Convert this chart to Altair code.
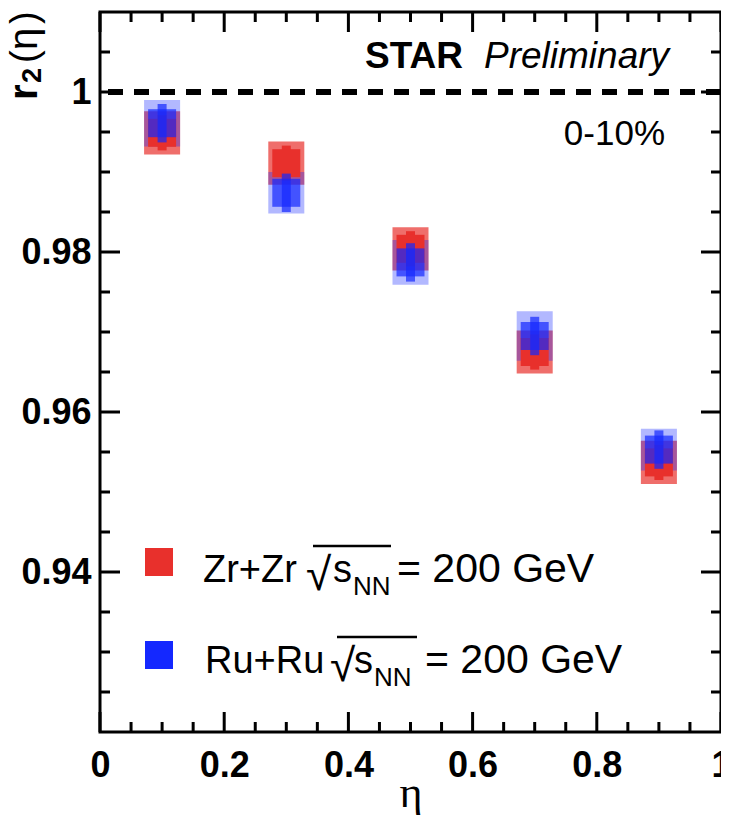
import altair as alt
import pandas as pd

# ---------------- data ----------------
eta = [0.1, 0.3, 0.5, 0.7, 0.9]

zr_r2 = [0.9949, 0.9911, 0.9804, 0.9675, 0.9537]
zr_stat = [0.0022, 0.0022, 0.0022, 0.0022, 0.0022]
zr_sys = [0.0027, 0.0027, 0.0027, 0.0027, 0.0027]

ru_r2 = [0.9961, 0.9874, 0.9787, 0.9695, 0.9553]
ru_stat = [0.0024, 0.0024, 0.0024, 0.0024, 0.0024]
ru_sys = [0.0029, 0.0026, 0.0028, 0.0031, 0.0026]

x_major = [0.0, 0.2, 0.4, 0.6, 0.8, 1.0]
x_minor = [0.05, 0.1, 0.15, 0.25, 0.3, 0.35, 0.45, 0.5, 0.55,
           0.65, 0.7, 0.75, 0.85, 0.9, 0.95]
y_major = [0.94, 0.96, 0.98, 1.0]
y_minor = [0.925, 0.93, 0.935, 0.945, 0.95, 0.955, 0.965, 0.97, 0.975,
           0.985, 0.99, 0.995, 1.005]
ref_level = [1.0]

# ---------------- style ----------------
W, H = 621, 720
RED = "#e8302c"
BLUE = "#1428ff"
BOX_HALF = 0.029          # half width of systematic boxes (in eta units)
MARK = 784                # square marker area (28 px side)
FONT = "Liberation Sans"

xs = alt.Scale(domain=[0, 1], nice=False, zero=False)
ys = alt.Scale(domain=[0.92, 1.01], nice=False, zero=False)


def series_df(vals, stat, sys):
    d = pd.DataFrame({"eta": eta, "r2": vals, "stat": stat, "sys": sys})
    d["x1"] = d["eta"] - BOX_HALF
    d["x2"] = d["eta"] + BOX_HALF
    d["sys_lo"] = d["r2"] - d["sys"]
    d["sys_hi"] = d["r2"] + d["sys"]
    d["st_lo"] = d["r2"] - d["stat"]
    d["st_hi"] = d["r2"] + d["stat"]
    return d


zr = series_df(zr_r2, zr_stat, zr_sys)
ru = series_df(ru_r2, ru_stat, ru_sys)

X_AXIS = alt.Axis(values=x_major, format=".1~f", tickSize=0, domain=False, grid=False,
                  labelFont=FONT, labelFontWeight="bold", labelFontSize=36,
                  labelColor="black", labelPadding=16, labelFlush=False,
                  labelOverlap=False, title="η", titleFont="Liberation Serif",
                  titleFontWeight="normal", titleFontSize=44, titleColor="black",
                  titleX=W / 2, titleY=74, titleBaseline="alphabetic",
                  titleAlign="center")
Y_AXIS = alt.Axis(values=y_major, format=".2~f", tickSize=0, domain=False, grid=False,
                  labelFont=FONT, labelFontWeight="bold", labelFontSize=36,
                  labelColor="black", labelPadding=9, labelFlush=False,
                  labelOverlap=False, title=None)


def X(field):
    return alt.X(field, type="quantitative", scale=xs, axis=X_AXIS)


def Y(field):
    return alt.Y(field, type="quantitative", scale=ys, axis=Y_AXIS)


def sys_boxes(d, color, op):
    return alt.Chart(d).mark_rect(color=color, opacity=op).encode(
        x=X("x1"), x2="x2", y=Y("sys_lo"), y2="sys_hi")


def stat_bars(d, color, op):
    return alt.Chart(d).mark_rule(color=color, opacity=op, strokeWidth=9).encode(
        x=X("eta"), y=Y("st_lo"), y2="st_hi")


def markers(d, color, op):
    return alt.Chart(d).mark_square(color=color, opacity=op, size=MARK).encode(
        x=X("eta"), y=Y("r2"))


def xticks(vals, length, top):
    y0 = 0 if top else H
    y1 = length if top else H - length
    return alt.Chart(pd.DataFrame({"v": vals})).mark_rule(
        color="black", strokeWidth=3).encode(
        x=X("v"), y=alt.value(y0), y2=alt.value(y1))


def yticks(vals, length, right):
    x0 = W if right else 0
    x1 = W - length if right else length
    return alt.Chart(pd.DataFrame({"v": vals})).mark_rule(
        color="black", strokeWidth=3).encode(
        y=Y("v"), x=alt.value(x0), x2=alt.value(x1))


def label(text, x, y, size, weight="normal", style="normal", font=FONT,
          align="left", angle=0):
    return alt.Chart(pd.DataFrame({"t": [text]})).mark_text(
        align=align, baseline="alphabetic", font=font, fontSize=size,
        fontWeight=weight, fontStyle=style, angle=angle, color="black").encode(
        x=alt.value(x), y=alt.value(y), text="t:N")


def legend_square(color, x, y):
    return alt.Chart(pd.DataFrame({"a": [0]})).mark_square(
        color=color, size=MARK, opacity=1).encode(x=alt.value(x), y=alt.value(y))


def overline(x0, x1, y):
    return alt.Chart(pd.DataFrame({"a": [0]})).mark_rule(
        color="black", strokeWidth=2.5).encode(
        x=alt.value(x0), x2=alt.value(x1), y=alt.value(y))


ref_line = alt.Chart(pd.DataFrame({"v": ref_level})).mark_rule(
    color="black", strokeWidth=6, strokeDash=[15, 11]).encode(y=Y("v"))

layers = [
    sys_boxes(zr, RED, 0.7),
    sys_boxes(ru, BLUE, 0.33),
    stat_bars(zr, RED, 1.0),
    markers(zr, RED, 1.0),
    stat_bars(ru, BLUE, 0.7),
    markers(ru, BLUE, 0.7),
    ref_line,
    xticks(x_major, 20, False), xticks(x_minor, 10, False),
    xticks(x_major, 20, True), xticks(x_minor, 10, True),
    yticks(y_major, 20, False), yticks(y_minor, 10, False),
    yticks(y_major, 20, True), yticks(y_minor, 10, True),
    # y-axis title r2(eta), drawn piece by piece (rotated)
    label("r", -63, 88, 40, weight="bold", angle=270),
    label("2", -59, 71, 27, weight="bold", angle=270),
    label("(", -63, 51, 38, angle=270),
    label("η", -63, 38, 40, angle=270),
    label(")", -63, 12, 38, angle=270),
    # header texts
    label("STAR", 265, 56, 37, weight="bold"),
    label("Preliminary", 384, 56, 37, style="italic"),
    label("0-10%", 565, 133, 35, align="right"),
    # legend row 1
    legend_square(RED, 59, 550),
    label("Zr+Zr", 103, 570, 38),
    label("√", 206, 578, 46),
    overline(213, 291, 534),
    label("s", 233, 570, 38),
    label("NN", 253, 583, 26),
    label("= 200 GeV", 297, 570, 41),
    # legend row 2
    legend_square(BLUE, 59, 643),
    label("Ru+Ru", 105, 661, 38),
    label("√", 230, 669, 46),
    overline(237, 317, 625),
    label("s", 254, 661, 38),
    label("NN", 274, 674, 26),
    label("= 200 GeV", 325, 661, 41),
]

chart = alt.layer(*layers).properties(
    width=W, height=H,
    autosize=alt.AutoSizeParams(type="none"),
    padding={"left": 92, "top": 4, "right": 0, "bottom": 83},
).configure_view(stroke="black", strokeWidth=3)

chart.save("out.html", embed_options={"renderer": "svg", "actions": False})
